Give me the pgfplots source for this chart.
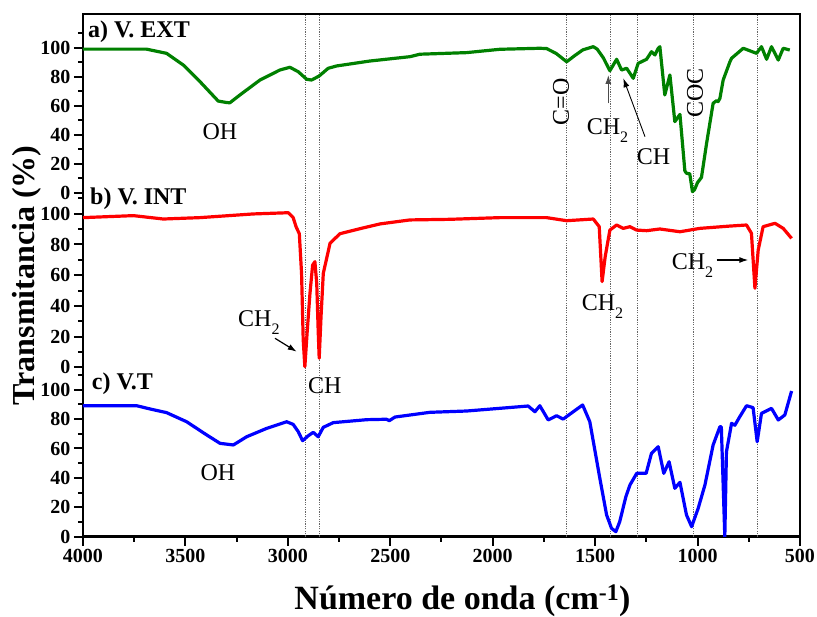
\documentclass[border=0pt]{standalone}
\usepackage{pgfplots}
\pgfplotsset{compat=1.18}
\usepackage{pgfplotstable}
\usetikzlibrary{arrows.meta}
\usepackage{fontspec}
\setmainfont{Liberation Serif}

\pgfplotstableread{
w T
4000 99
3850 99
3690 99
3592 96.1
3510 88
3429 76.6
3340 63.2
3300 62.2
3283 62
3234 67.4
3136 77.7
3039 84.6
2990 86.5
2949 83.4
2908 78.2
2884 77.7
2847 80.5
2803 85.8
2762 87.4
2600 90.8
2404 93.8
2355 95.5
2127 96.6
1965 98.9
1770 99.6
1737 99.4
1690 96
1639 90.3
1600 94.5
1560 98.5
1509 100.7
1490 99
1460 93
1428 84.1
1395 92
1371 84.6
1346 85.8
1314 78.9
1290 89.2
1249 92
1225 97.2
1208 95
1192 99.6
1184 100.7
1160 67.4
1135 81.2
1111 49
1086 54
1062 15
1054 13.4
1038 13
1025 0.7
1015 2
1000 7
981 10.5
956 34
924 61.7
907 63.5
900 62.8
891 65
875 77.7
842 90.3
834 92.7
777 99.6
712 96.1
688 100.7
663 92
639 100.7
606 91.5
582 99.6
550 98.4
}\dataA

\pgfplotstableread{
w T
4000 97.5
3754 98.8
3608 96.6
3429 97.5
3169 99.9
2998 100.7
2974 97.5
2960 91.6
2944 87
2933 61
2925 17.8
2917 0.4
2905 24.3
2892 48.2
2879 66.6
2868 68.8
2859 54.7
2852 24.3
2847 5.9
2838 33
2827 61.2
2794 80.8
2746 87
2648 90.3
2550 93.4
2404 96
2209 96.4
1965 97.5
1737 97.5
1639 95.5
1509 96.6
1480 91.6
1466 55.8
1451 72
1428 89.4
1395 92.7
1363 90.5
1330 91.6
1298 89.4
1249 89
1184 90.1
1086 88.3
989 90.5
842 92
761 92.7
737 87.3
720 51.5
704 76.4
680 91.6
622 93.8
582 90.5
541 84
}\dataB

\pgfplotstableread{
w T
4000 89.1
3738 89.1
3673 86.9
3592 84.4
3494 78.2
3396 69.2
3331 63.5
3266 62.4
3201 68
3103 73.7
3006 78.2
2974 76.4
2949 71.4
2928 65.3
2900 68.7
2876 71
2852 68
2827 74.4
2778 77.6
2615 79.6
2518 79.9
2505 78.9
2477 81.4
2307 84.6
2127 85.5
1950 87.5
1827 88.9
1794 85
1770 89.1
1729 79.4
1688 82.3
1656 80
1607 85
1561 89.6
1526 78.2
1477 39.7
1444 14.8
1420 5.7
1399 3.4
1380 10.2
1350 27.2
1330 35.2
1297 43.1
1251 43.1
1225 56.7
1192 61.2
1165 43.1
1139 51
1111 32.9
1086 37
1054 14.8
1029 6.8
997 19.3
964 35.2
924 62.4
891 74.8
884 74.8
867 0
859 57.8
834 77.1
818 75.8
794 81.6
761 89.1
729 87.8
709 64.6
688 83.9
639 87.3
606 79.4
574 82.8
541 99.1
}\dataC

\begin{document}
\begin{tikzpicture}
\begin{axis}[
  at={(0,0)}, anchor=south west,
  scale only axis, width=717pt, height=522.7pt,
  x dir=reverse, xmin=500, xmax=4000, ymin=0, ymax=522.7,
  xtick={500,1000,...,4000}, minor x tick num=1,
  ytick={0,29.4,58.8,88.2,117.6,147,169.4,200.1,230.8,261.5,292.2,322.9,344,373,402,431,460,489},
  yticklabels={0,20,40,60,80,100,0,20,40,60,80,100,0,20,40,60,80,100},
  minor ytick={14.7,44.1,73.5,102.9,132.3,161.7,184.75,215.45,246.15,276.85,307.55,338.25,358.5,387.5,416.5,445.5,474.5,503.5},
  xtick pos=bottom, ytick pos=left, tick align=outside,
  major tick length=9pt, minor tick length=5pt,
  tick style={black, line width=2pt},
  axis line style={line width=2.5pt},
  tick label style={font=\fontsize{20}{20}\selectfont\bfseries},
  /pgf/number format/assume math mode=true,
  /pgf/number format/1000 sep={},
  clip=true,
]
\foreach \v in {2915,2848,1638,1427,1294,1019,706}{
  \edef\tmp{\noexpand\addplot[black!60, line width=0.8pt, dash pattern=on 1.2pt off 1.2pt, forget plot] coordinates {(\v,0) (\v,522.7)};}
  \tmp
}
\addplot[green!50!black, line width=3.2pt, line join=round] table[x=w, y expr=\thisrow{T}*1.45+344] {\dataA};
\addplot[red, line width=3.2pt, line join=round] table[x=w, y expr=\thisrow{T}*1.535+169.4] {\dataB};
\addplot[blue, line width=3.2pt, line join=round] table[x=w, y expr=\thisrow{T}*1.47] {\dataC};
\end{axis}
% panel titles
\node[anchor=west, font=\fontsize{24}{24}\selectfont\bfseries, inner sep=0pt] at (5pt,505pt) {a) V. EXT};
\node[anchor=west, font=\fontsize{24}{24}\selectfont\bfseries, inner sep=0pt] at (7pt,338.4pt) {b) V. INT};
\node[anchor=west, font=\fontsize{24}{24}\selectfont\bfseries, inner sep=0pt] at (8.7pt,153.4pt) {c) V.T};
% annotations
\tikzset{ann/.style={font=\fontsize{24}{24}\selectfont, inner sep=0pt}}
\newcommand{\sub}{\raisebox{-0.32em}{\fontsize{16}{16}\selectfont 2}}
\node[ann] at (137pt,405.4pt) {OH};
\node[ann, rotate=90] at (478pt,435pt) {C=O};
\node[ann, rotate=90] at (612pt,443.4pt) {COC};
\node[ann, anchor=base west] at (503.7pt,401.7pt) {CH\sub};
\draw[line width=1pt, black!70, -{Latex[length=9pt,width=6pt]}] (525.3pt,433.4pt) -- (525.3pt,461.7pt);
\node[ann, anchor=base west] at (553.7pt,371.7pt) {CH};
\draw[line width=0.9pt, -{Latex[length=9pt,width=6pt]}] (562pt,400pt) -- (540.3pt,458.4pt);
\node[ann, anchor=base west] at (155pt,210pt) {CH\sub};
\draw[line width=1.2pt, -{Latex[length=9pt,width=6pt]}] (192pt,198.4pt) -- (213.7pt,185pt);
\node[ann, anchor=base west] at (225pt,142.7pt) {CH};
\node[ann, anchor=base west] at (498.7pt,226pt) {CH\sub};
\node[ann, anchor=base west] at (588.7pt,266.7pt) {CH\sub};
\draw[line width=1.2pt, -{Latex[length=9pt,width=6pt]}] (633.7pt,276.7pt) -- (665.3pt,276.7pt);
\node[ann] at (135pt,64pt) {OH};
% axis labels
\node[rotate=90, font=\fontsize{32}{32}\selectfont\bfseries, inner sep=0pt] at (-56pt,261.2pt) {Transmitancia (\%)};
\node[anchor=base, font=\fontsize{34}{34}\selectfont\bfseries, inner sep=0pt] at (379.5pt,-72.5pt) {Número de onda (cm\textsuperscript{-1})};
\pgfresetboundingbox
\path[use as bounding box] (-83pt,-80.3pt) rectangle (734pt,536.7pt);
\end{tikzpicture}
\end{document}
